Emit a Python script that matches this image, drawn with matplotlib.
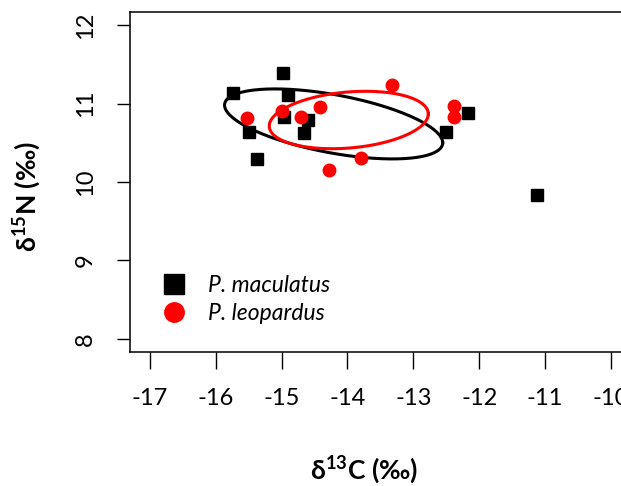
import numpy as np
import matplotlib
matplotlib.use("Agg")
from matplotlib import pyplot as plt
from matplotlib.lines import Line2D

plt.rcParams['font.family'] = ['Lato', 'DejaVu Sans']
plt.rcParams['mathtext.fontset'] = 'custom'
plt.rcParams['mathtext.rm'] = 'Lato'
plt.rcParams['mathtext.bf'] = 'Lato:bold'

# P. maculatus (black squares)
mac_c = [-14.98, -15.74, -14.90, -15.49, -15.38, -14.97, -14.60, -14.66, -12.17, -12.50, -11.13]
mac_n = [11.39, 11.13, 11.11, 10.64, 10.29, 10.83, 10.79, 10.62, 10.88, 10.64, 9.84]

# P. leopardus (red circles)
leo_c = [-15.53, -15.00, -14.71, -14.41, -13.33, -12.39, -12.39, -13.79, -14.28]
leo_n = [10.82, 10.90, 10.83, 10.96, 11.24, 10.97, 10.83, 10.31, 10.15]

# standard ellipses: centre x, centre y, sd x, sd y, covariance
mac_ell = [-14.21, 10.74, 1.655, 0.446, -0.397]
leo_ell = [-13.98, 10.79, 1.207, 0.366, 0.093]

xticks = [-17, -16, -15, -14, -13, -12, -11, -10]
yticks = [8, 9, 10, 11, 12]


def ellipse_xy(cx, cy, sx, sy, cxy):
    t = np.linspace(0, 2 * np.pi, 300)
    x = cx + sx * np.cos(t)
    y = cy + (cxy / sx) * np.cos(t) + np.sqrt(sy ** 2 - (cxy / sx) ** 2) * np.sin(t)
    return x, y


fig = plt.figure(figsize=(6.21, 4.86), dpi=100)
ax = fig.add_axes([130 / 621, 1 - 352 / 486, 499.5 / 621, 340 / 486])

ax.plot(mac_c, mac_n, 's', color='black', ms=9, zorder=3)
ax.plot(leo_c, leo_n, 'o', color='red', ms=9, zorder=3)

ex, ey = ellipse_xy(*mac_ell)
ax.plot(ex, ey, color='black', lw=2.2, zorder=2)
ex, ey = ellipse_xy(*leo_ell)
ax.plot(ex, ey, color='red', lw=2.2, zorder=2)

ax.set_xlim(-17.30, -9.72)
ax.set_ylim(7.834, 12.166)
ax.set_xticks(xticks)
ax.set_yticks(yticks)
ax.set_xticklabels([str(v) for v in xticks])
ax.set_yticklabels([str(v) for v in yticks], rotation=90, va='center')
ax.tick_params(axis='x', length=12, width=1, labelsize=17, pad=14)
ax.tick_params(axis='y', length=9.5, width=1, labelsize=17, pad=15)
for s in ax.spines.values():
    s.set_linewidth(1.1)

fig.text(364 / 621, 1 - 470 / 486, r"δ$^{\mathregular{13}}$C (‰)", ha='center', va='center',
         fontsize=19, fontweight='bold')
fig.text(27 / 621, 1 - 197 / 486, r"δ$^{\mathregular{15}}$N (‰)", ha='center', va='center',
         fontsize=19, fontweight='bold', rotation=90)

handles = [Line2D([], [], ls='none', marker='s', color='black', ms=14),
           Line2D([], [], ls='none', marker='o', color='red', ms=14)]
leg = ax.legend(handles, ['P. maculatus', 'P. leopardus'], loc='lower left',
                bbox_to_anchor=(0.0, 0.022), frameon=False, handletextpad=0.5,
                labelspacing=0.3, prop={'style': 'italic', 'size': 16.5})

fig.savefig("out.png", dpi=100)
